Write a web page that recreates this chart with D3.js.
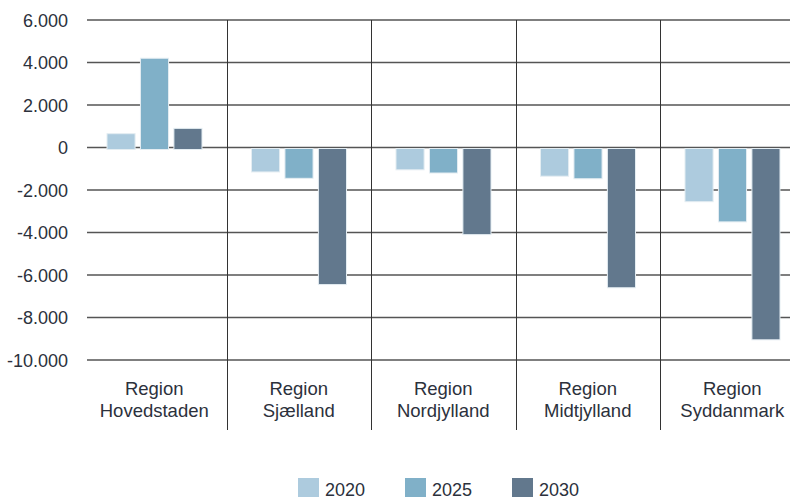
<!DOCTYPE html>
<html>
<head>
<meta charset="utf-8">
<script src="https://cdn.jsdelivr.net/npm/d3@7"></script>
<style>
  html, body { margin: 0; padding: 0; background: #fff; }
  svg { display: block; font-family: "Liberation Sans", Arial, sans-serif; }
</style>
</head>
<body>
<svg id="chart" width="790" height="501"></svg>
<script>
/* ── Data ─────────────────────────────────────────────── */
const regions = [
  ['Region', 'Hovedstaden'],
  ['Region', 'Sjælland'],
  ['Region', 'Nordjylland'],
  ['Region', 'Midtjylland'],
  ['Region', 'Syddanmark']
];
const years = ['2020', '2025', '2030'];
const values2020 = [650, -1150, -1050, -1350, -2550];
const values2025 = [4200, -1450, -1200, -1470, -3500];
const values2030 = [900, -6450, -4100, -6600, -9050];
const yTicks = [6000, 4000, 2000, 0, -2000, -4000, -6000, -8000, -10000];
const colors = ['#adcbde', '#80b0c8', '#62788d'];

/* ── Setup ────────────────────────────────────────────── */
const svg = d3.select('#chart');
const textColor = '#2c313c';
const locale = d3.formatLocale({ decimal: ',', thousands: '.', grouping: [3], currency: ['', ''], minus: '-' });
const fmt = locale.format(',d');

const series = [values2020, values2025, values2030];
const regionKeys = regions.map(r => r.join(' '));

const x = d3.scaleBand().domain(regionKeys).range([82, 804.5]).paddingInner(0).paddingOuter(0);
const xInner = d3.scaleBand().domain(years).range([25, 120]).paddingInner(0.16);
const y = d3.scaleLinear().domain([-10000, 6000]).range([360, 20]);

/* ── Gridlines ────────────────────────────────────────── */
svg.append('g')
  .selectAll('line')
  .data(yTicks)
  .join('line')
  .attr('x1', 87).attr('x2', 790)
  .attr('y1', d => y(d)).attr('y2', d => y(d))
  .attr('stroke', '#555').attr('stroke-width', 1.3);

/* ── Y labels ─────────────────────────────────────────── */
svg.append('g')
  .selectAll('text')
  .data(yTicks)
  .join('text')
  .attr('x', 68)
  .attr('y', d => y(d) + 6.5)
  .attr('text-anchor', 'end')
  .attr('font-size', 18)
  .attr('fill', textColor)
  .text(d => fmt(d));

/* ── Category separators ──────────────────────────────── */
svg.append('g')
  .selectAll('line')
  .data(regionKeys.slice(1))
  .join('line')
  .attr('x1', d => Math.round(x(d)) + 0.5).attr('x2', d => Math.round(x(d)) + 0.5)
  .attr('y1', y(6000)).attr('y2', 430)
  .attr('stroke', '#333').attr('stroke-width', 1);

/* ── Bars ─────────────────────────────────────────────── */
const barData = [];
regionKeys.forEach((r, i) => {
  years.forEach((yr, j) => barData.push({ region: r, year: yr, value: series[j][i], k: j }));
});

svg.append('g')
  .selectAll('rect')
  .data(barData)
  .join('rect')
  .attr('x', d => x(d.region) + xInner(d.year))
  .attr('width', xInner.bandwidth())
  .attr('y', d => d.value >= 0 ? y(d.value) : y(0) + 1)
  .attr('height', d => d.value >= 0 ? y(0) - y(d.value) + 2 : y(d.value) - y(0) - 1)
  .attr('fill', d => colors[d.k])
  .attr('stroke', '#e4edf2').attr('stroke-width', 1);

/* ── Category labels ──────────────────────────────────── */
const labels = svg.append('g')
  .selectAll('text')
  .data(regions)
  .join('text')
  .attr('x', (d, i) => x(regionKeys[i]) + x.bandwidth() / 2)
  .attr('y', 395)
  .attr('text-anchor', 'middle')
  .attr('font-size', 18.5)
  .attr('fill', textColor);

labels.selectAll('tspan')
  .data(d => d)
  .join('tspan')
  .attr('x', function () { return d3.select(this.parentNode).attr('x'); })
  .attr('dy', (d, i) => i === 0 ? 0 : 22)
  .text(d => d);

/* ── Legend ───────────────────────────────────────────── */
const legend = svg.append('g')
  .selectAll('g')
  .data(years)
  .join('g')
  .attr('transform', (d, i) => `translate(${298 + i * 107},478)`);

legend.append('rect')
  .attr('width', 21).attr('height', 19)
  .attr('fill', (d, i) => colors[i]);

legend.append('text')
  .attr('x', 27).attr('y', 18)
  .attr('font-size', 18)
  .attr('fill', textColor)
  .text(d => d);
</script>
</body>
</html>
